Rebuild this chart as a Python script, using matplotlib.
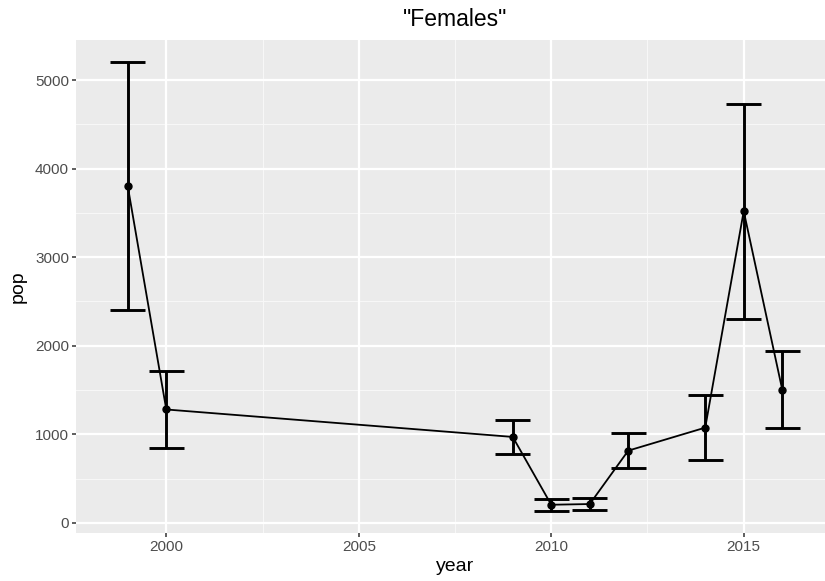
import numpy as np
import matplotlib
matplotlib.use("Agg")
import matplotlib.pyplot as plt

# values
years = [1999, 2000, 2009, 2010, 2011, 2012, 2014, 2015, 2016]
pop = [3800, 1280, 970, 204, 212, 815, 1075, 3520, 1505]
err = [1400, 435, 195, 66, 66, 200, 365, 1215, 435]

x_ticks = [2000, 2005, 2010, 2015]
x_minor = [2002.5, 2007.5, 2012.5]
y_ticks = [0, 1000, 2000, 3000, 4000, 5000]
y_tick_labels = ["0", "1000", "2000", "3000", "4000", "5000"]
y_minor = [500, 1500, 2500, 3500, 4500]

plt.rcParams['font.family'] = ['Liberation Sans', 'DejaVu Sans']

yr = np.array(years, dtype=float)
p = np.array(pop, dtype=float)
e = np.array(err, dtype=float)
cap = 0.9

fig = plt.figure(figsize=(8.25, 5.81), dpi=100)
ax = fig.add_axes([76/825, 48/581, 758/825, 493/581])
ax.set_facecolor("#EBEBEB")

# limits like ggplot (5% expansion)
x0, x1 = yr.min() - cap/2, yr.max() + cap/2
y0, y1 = (p - e).min(), (p + e).max()
ax.set_xlim(x0 - 0.05*(x1-x0), x1 + 0.05*(x1-x0))
ax.set_ylim(y0 - 0.05*(y1-y0), y1 + 0.05*(y1-y0))

for v in x_minor:
    ax.axvline(v, color="#F7F7F7", lw=0.8, zorder=0.5)
for v in y_minor:
    ax.axhline(v, color="#F7F7F7", lw=0.8, zorder=0.5)
for v in x_ticks:
    ax.axvline(v, color="white", lw=1.6, zorder=0.6)
for v in y_ticks:
    ax.axhline(v, color="white", lw=1.6, zorder=0.6)

ax.plot(yr, p, color="black", lw=1.3, zorder=2)
ax.plot(yr, p, "o", color="black", ms=5, zorder=3)
ax.vlines(yr, p - e, p + e, color="black", lw=2.1, zorder=2)
ax.hlines(p - e, yr - cap/2, yr + cap/2, color="black", lw=2.1, zorder=2)
ax.hlines(p + e, yr - cap/2, yr + cap/2, color="black", lw=2.1, zorder=2)

for s in ax.spines.values():
    s.set_visible(False)

ax.set_xticks(x_ticks)
ax.set_yticks(y_ticks)
ax.set_yticklabels(y_tick_labels)
ax.tick_params(length=3, width=1.1, color="#333333", labelcolor="#4D4D4D",
               labelsize=11, pad=2)

ax.set_xlabel("year", fontsize=14, labelpad=3)
ax.set_ylabel("pop", fontsize=14, labelpad=6)
ax.set_title('"Females"', fontsize=16.5, pad=10)

fig.savefig("out.png", dpi=100)
